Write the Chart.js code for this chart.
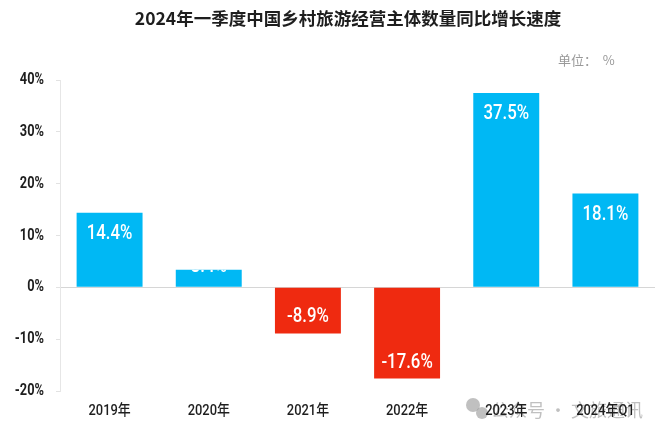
<!DOCTYPE html>
<html>
<head>
<meta charset="utf-8">
<script src="https://cdn.jsdelivr.net/npm/chart.js@4"></script>
<style>
  body { margin: 0; background: #fff; }
  #wrap { width: 660px; height: 435px; }
</style>
</head>
<body>
<div id="wrap"><canvas id="growthChart" width="660" height="435"></canvas></div>
<script>
// 2024年一季度中国乡村旅游经营主体数量同比增长速度
const categories = ['2019年', '2020年', '2021年', '2022年', '2023年', '2024年Q1'];
const growthValues = [14.4, 3.4, -8.9, -17.6, 37.5, 18.1];
const yTicks = [40, 30, 20, 10, 0, -10, -20];

const BLUE = '#00B8F4';
const RED = '#EF2A10';
const FAMILY = "Roboto, 'Noto Sans CJK SC', sans-serif";

// 窄体文字：横向压缩
function narrowText(ctx, text, x, y, sx, align) {
    ctx.save();
    ctx.translate(x, y);
    ctx.scale(sx, 1);
    ctx.textAlign = align;
    ctx.fillText(text, 0, 0);
    ctx.restore();
}

// 水印（画在最底层）
const watermark = {
    id: 'watermark',
    beforeDatasetsDraw(chart) {
        const ctx = chart.ctx;
        ctx.save();
        ctx.fillStyle = 'rgba(150,150,150,0.6)';
        ctx.beginPath();
        ctx.arc(473, 405, 7, 0, Math.PI * 2);
        ctx.fill();
        ctx.beginPath();
        ctx.arc(482, 413, 6, 0, Math.PI * 2);
        ctx.fill();
        ctx.fillStyle = 'rgba(150,150,150,0.6)';
        ctx.font = "18px 'Noto Sans CJK SC', sans-serif";
        ctx.textAlign = 'left';
        ctx.textBaseline = 'middle';
        ctx.fillText('公众号 · 文旅通讯', 491, 410);
        ctx.restore();
    }
};

// 柱内数值标签（裁剪在柱子里面）
const barLabels = {
    id: 'barLabels',
    afterDatasetsDraw(chart) {
        const ctx = chart.ctx;
        const meta = chart.getDatasetMeta(0);
        meta.data.forEach((bar, i) => {
            const v = growthValues[i];
            const top = Math.min(bar.y, bar.base);
            const h = Math.abs(bar.base - bar.y);
            const cy = v >= 0 ? bar.y + Math.min(21, h - 20) : bar.y - 16;
            ctx.save();
            ctx.beginPath();
            ctx.rect(bar.x - bar.width / 2, top, bar.width, h);
            ctx.clip();
            ctx.fillStyle = '#fff';
            ctx.font = '500 20px ' + FAMILY;
            ctx.textBaseline = 'middle';
            narrowText(ctx, v.toFixed(1) + '%', bar.x, cy, 0.84, 'center');
            ctx.restore();
        });
    }
};

// 坐标轴文字、标题、单位
const extras = {
    id: 'extras',
    afterDraw(chart) {
        const ctx = chart.ctx;
        const xs = chart.scales.x;
        const ys = chart.scales.y;
        ctx.save();
        ctx.fillStyle = '#1e1e1e';
        ctx.textBaseline = 'middle';
        ctx.font = 'bold 16px ' + FAMILY;
        yTicks.forEach(v => {
            narrowText(ctx, v + '%', 44, ys.getPixelForValue(v), 0.8, 'right');
        });
        ctx.font = '500 15px ' + FAMILY;
        categories.forEach((c, i) => {
            narrowText(ctx, c, xs.getPixelForTick(i), 411, 0.86, 'center');
        });

        ctx.font = "bold 17.5px 'Noto Sans CJK SC', sans-serif";
        ctx.textAlign = 'center';
        ctx.fillText('2024年一季度中国乡村旅游经营主体数量同比增长速度', 348, 18);

        ctx.fillStyle = '#999';
        ctx.font = "13px 'Noto Sans CJK SC', sans-serif";
        ctx.textAlign = 'left';
        ctx.fillText('单位：  %', 558, 60);
        ctx.restore();
    }
};

new Chart(document.getElementById('growthChart'), {
    type: 'bar',
    data: {
        labels: categories,
        datasets: [{
            data: growthValues,
            backgroundColor: growthValues.map(v => v >= 0 ? BLUE : RED),
            borderWidth: 0,
            categoryPercentage: 1,
            barPercentage: 0.665
        }]
    },
    options: {
        responsive: false,
        animation: false,
        layout: { padding: { top: 80, right: 5, left: 0, bottom: 0 } },
        plugins: {
            legend: { display: false },
            tooltip: { enabled: false }
        },
        scales: {
            x: {
                grid: { display: false },
                border: { display: false },
                ticks: { display: false },
                afterFit(scale) { scale.height = 44; }
            },
            y: {
                min: -20,
                max: 40,
                afterBuildTicks(scale) {
                    scale.ticks = yTicks.map(v => ({ value: v }));
                },
                grid: {
                    color: c => (c.tick && c.tick.value === 0) ? '#d6d6d6' : 'transparent',
                    tickColor: '#e2e2e2',
                    tickLength: 4
                },
                border: { display: true, color: '#e6e6e6' },
                ticks: { display: false },
                afterFit(scale) { scale.width = 60; }
            }
        }
    },
    plugins: [watermark, barLabels, extras]
});
</script>
</body>
</html>
